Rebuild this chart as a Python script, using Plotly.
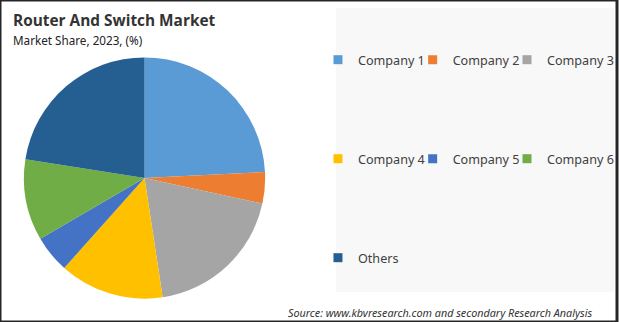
import plotly.graph_objects as go

W, H = 619, 322

labels = ["Company 1", "Company 2", "Company 3", "Company 4", "Company 5", "Company 6", "Others"]
values = [24.2, 4.2, 19.2, 14.0, 5.0, 10.9, 22.5]
colors = ["#5B9BD5", "#ED7D31", "#A5A5A5", "#FFC000", "#4472C4", "#70AD47", "#255E91"]
# legend grid: (row, column) of each entry
legend_cells = [(0, 0), (0, 1), (0, 2), (1, 0), (1, 1), (1, 2), (2, 0)]

def px(x):
    return x / W

def py(y):
    return 1 - y / H

cx, cy, r = 145, 178, 121

fig = go.Figure()
fig.add_trace(go.Pie(
    labels=labels, values=values, sort=False, direction="clockwise", rotation=0,
    marker=dict(colors=colors, line=dict(width=0)),
    textinfo="none", showlegend=False,
    domain=dict(x=[px(cx - r), px(cx + r)], y=[py(cy + r), py(cy - r)]),
))

row_y = [60, 159, 258]
col_x = [319, 414, 509]
layout_legends = {}
for i, (name, col) in enumerate(zip(labels, colors)):
    ln = "legend" if i == 0 else f"legend{i + 1}"
    fig.add_trace(go.Scatter(
        x=[None], y=[None], mode="markers", name=name,
        marker=dict(symbol="square", size=9, color=col),
        legend=ln, showlegend=True, hoverinfo="skip",
    ))
    rr, cc = legend_cells[i]
    layout_legends[ln] = dict(
        x=px(col_x[cc]), y=py(row_y[rr]), xanchor="left", yanchor="middle",
        orientation="h", bgcolor="rgba(0,0,0,0)", itemwidth=30,
        font=dict(family="Noto Sans", size=12.6, color="#404040"),
    )

fig.update_layout(
    width=W, height=H,
    margin=dict(l=0, r=0, t=0, b=0),
    paper_bgcolor="white", plot_bgcolor="white",
    xaxis=dict(visible=False), yaxis=dict(visible=False),
    shapes=[
        dict(type="rect", xref="paper", yref="paper", layer="below",
             x0=px(337), x1=px(616), y0=py(292), y1=py(8),
             fillcolor="#F8F8F8", line=dict(width=0)),
        dict(type="rect", xref="paper", yref="paper", layer="above",
             x0=0, x1=1, y0=0, y1=1, line=dict(color="#262626", width=3)),
    ],
    annotations=[
        dict(text="<b>Router And Switch Market</b>", xref="paper", yref="paper",
             x=px(11), y=py(20), xanchor="left", yanchor="middle", showarrow=False,
             font=dict(family="Open Sans", size=15.4, color="#333333")),
        dict(text="Market Share, 2023, (%)", xref="paper", yref="paper",
             x=px(11), y=py(40), xanchor="left", yanchor="middle", showarrow=False,
             font=dict(family="Noto Sans", size=11.7, color="#222222")),
        dict(text="<i>Source: www.kbvresearch.com and secondary Research Analysis</i>",
             xref="paper", yref="paper", x=px(597), y=py(312), xanchor="right",
             yanchor="middle", showarrow=False,
             font=dict(family="Noto Sans", size=10.8, color="#333333")),
    ],
    **layout_legends,
)

fig.write_html("out.html")
